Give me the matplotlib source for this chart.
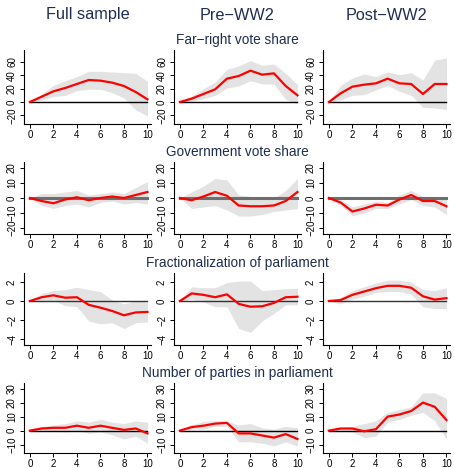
import matplotlib
matplotlib.use("Agg")
import matplotlib.pyplot as plt
import numpy as np

plt.rcParams['font.family'] = ['Liberation Sans', 'DejaVu Sans']

# horizon
h = list(range(11))

col_titles = ['Full sample', 'Pre\u2212WW2', 'Post\u2212WW2']
row_titles = ['Far\u2212right vote share', 'Government vote share',
              'Fractionalization of parliament', 'Number of parties in parliament']

# far-right vote share: (point estimate, upper, lower) per sample
fr_full = [0, 8, 16, 21, 27, 33, 32, 29, 24, 15, 4]
fr_full_hi = [0, 12, 25, 32, 38, 46, 46, 45, 44, 43, 31]
fr_full_lo = [0, 3, 8, 10, 17, 19, 19, 14, 6, -12, -21]
fr_pre = [0, 5, 12, 19, 35, 39, 47, 41, 43, 24, 10]
fr_pre_hi = [0, 9, 20, 30, 49, 54, 62, 55, 57, 43, 26]
fr_pre_lo = [0, 1, 5, 10, 21, 24, 32, 27, 27, 4, -3]
fr_post = [0, 13, 23, 26, 28, 35, 28, 27, 12, 27, 27]
fr_post_hi = [0, 25, 36, 42, 38, 45, 41, 44, 33, 63, 66]
fr_post_lo = [0, 3, 10, 11, 18, 25, 16, 10, -8, -9, -11]

# government vote share
gv_full = [0, -2, -3.5, -1, 0.5, -1.5, 0, 1, 0, 2, 4]
gv_full_hi = [0, 3, 3, 4, 5, 2, 3, 4, 3, 7, 11]
gv_full_lo = [0, -5, -7, -5, -4, -6, -3, -2, -4, -3, -4]
gv_pre = [0, -1.5, 1, 4, 1.5, -5, -5.5, -5.5, -5, -2, 4]
gv_pre_hi = [0, 4, 8, 13, 12, 2, 1, 0, 0, 5, 13]
gv_pre_lo = [0, -7, -6, -5, -8, -12, -12, -11, -9, -8, -7]
gv_post = [0, -3, -9, -7, -4.5, -5, -1, 2, -2, -2, -5.5]
gv_post_hi = [0, -1, -6, -4, -2, -3, 2, 5, 1, 1, -1]
gv_post_lo = [0, -5, -12, -10, -7, -7, -4, -1, -5, -6, -11]

# fractionalization of parliament
fp_full = [0, 0.4, 0.6, 0.35, 0.4, -0.4, -0.7, -1.05, -1.5, -1.2, -1.15]
fp_full_hi = [0, 0.8, 1.1, 1.2, 1.45, 1.2, 1.0, 0.1, -0.3, 0, -0.1]
fp_full_lo = [0, -0.1, 0.1, -0.5, -0.6, -2.1, -2.4, -2.3, -2.9, -2.3, -2.2]
fp_pre = [0, 0.8, 0.65, 0.4, 0.7, -0.3, -0.6, -0.55, -0.2, 0.4, 0.45]
fp_pre_hi = [0, 1.5, 1.4, 1.4, 1.95, 2.1, 2.1, 1.1, 1.2, 1.3, 1.35]
fp_pre_lo = [0, 0.2, -0.1, -0.6, -0.6, -2.9, -3.3, -2.1, -1.3, -0.4, -0.4]
fp_post = [0, 0.1, 0.65, 1.0, 1.35, 1.6, 1.6, 1.4, 0.5, 0.15, 0.3]
fp_post_hi = [0, 0.4, 1.1, 1.5, 1.9, 2.2, 2.2, 2.0, 1.2, 1.1, 1.4]
fp_post_lo = [0, -0.3, 0.2, 0.5, 0.9, 1.0, 1.0, 0.7, -0.6, -0.8, -0.8]

# number of parties in parliament
np_full = [0, 1.5, 2, 2, 3.5, 2, 3.5, 2, 0.5, 1.5, -2]
np_full_hi = [0, 3, 4, 5, 7, 6, 8, 6, 5, 7, 6]
np_full_lo = [0, 0, 0, -1, 0, -2, -1, -3, -6, -4, -9]
np_pre = [0, 2.5, 3.5, 5, 5.5, -2, -2, -3.5, -5, -2.5, -6]
np_pre_hi = [0, 4, 6.5, 7, 7, 4, 5, 2, 1, 3, 2]
np_pre_lo = [0, 1, 1, 3, 3, -8, -8, -9, -11, -8, -11]
np_post = [0, 1.5, 1.5, -0.5, 1, 10, 11.5, 14, 20, 17, 7.5]
np_post_hi = [0, 2, 3, 5, 7, 13, 15, 17, 27, 27, 23]
np_post_lo = [0, 0, -1, -5, -4, 6, 8, 11, 13, 7, -6]

rows = [
    [(fr_full, fr_full_hi, fr_full_lo), (fr_pre, fr_pre_hi, fr_pre_lo), (fr_post, fr_post_hi, fr_post_lo)],
    [(gv_full, gv_full_hi, gv_full_lo), (gv_pre, gv_pre_hi, gv_pre_lo), (gv_post, gv_post_hi, gv_post_lo)],
    [(fp_full, fp_full_hi, fp_full_lo), (fp_pre, fp_pre_hi, fp_pre_lo), (fp_post, fp_post_hi, fp_post_lo)],
    [(np_full, np_full_hi, np_full_lo), (np_pre, np_pre_hi, np_pre_lo), (np_post, np_post_hi, np_post_lo)],
]

yticks = [[-20, 0, 20, 40, 60], [-20, -10, 0, 10, 20], [-4, -2, 0, 2], [-10, 0, 10, 20, 30]]
ylims = [(-33, 78), (-24, 24), (-4.63, 2.95), (-16, 34)]
zero_style = [('black', 1.0), ('#6e6e6e', 2.2), ('#333333', 1.0), ('black', 1.0)]

W, H = 454, 468
fig = plt.figure(figsize=(W / 100, H / 100), dpi=100)

col_left = [24, 174, 323]
ax_w = 127
row_top = [50, 162, 273, 383]
ax_h = [74, 72, 72, 70]
sub_y = [40, 152, 263, 373]
title_col = '#1f2d50'

for r in range(4):
    for c in range(3):
        est, hi, lo = rows[r][c]
        ax = fig.add_axes([col_left[c] / W, 1 - (row_top[r] + ax_h[r]) / H, ax_w / W, ax_h[r] / H])
        ax.fill_between(h, lo, hi, color='#e3e3e3', lw=0)
        zc, zw = zero_style[r]
        ax.plot(h, np.zeros(len(h)), color=zc, lw=zw)
        ax.plot(h, est, color='#ff0000', lw=1.6)
        ax.set_xlim(-0.5, 10.3)
        ax.set_ylim(*ylims[r])
        ax.set_xticks([0, 2, 4, 6, 8, 10])
        ax.set_yticks(yticks[r])
        ax.set_yticklabels([str(t).replace('-', '\u2212') for t in yticks[r]],
                           rotation=90, va='center')
        ax.tick_params(labelsize=7, length=3, width=0.7, pad=2)
        ax.tick_params(axis='x', pad=1.5)
        for s in ['top', 'right']:
            ax.spines[s].set_visible(False)
        for s in ['left', 'bottom']:
            ax.spines[s].set_linewidth(0.8)
    fig.text((col_left[1] + ax_w / 2) / W, 1 - sub_y[r] / H, row_titles[r],
             ha='center', va='center', fontsize=9.8, color=title_col)

for c in range(3):
    fig.text((col_left[c] + ax_w / 2) / W, 1 - 15 / H, col_titles[c],
             ha='center', va='center', fontsize=11.7, color=title_col)

fig.savefig('out.png', dpi=100, facecolor='white')
